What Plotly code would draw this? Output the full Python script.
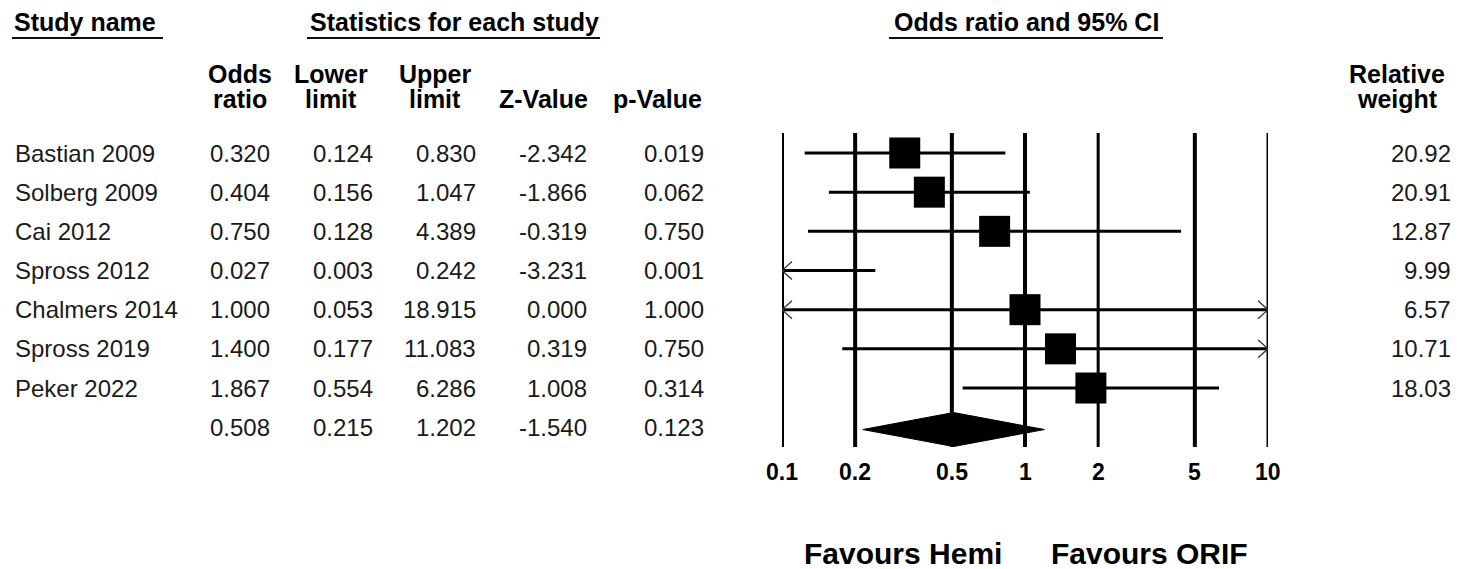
import math
import plotly.graph_objects as go

# ---------------- data ----------------
studies = ["Bastian 2009", "Solberg 2009", "Cai 2012", "Spross 2012",
           "Chalmers 2014", "Spross 2019", "Peker 2022"]
odds_ratio = [0.320, 0.404, 0.750, 0.027, 1.000, 1.400, 1.867]
lower_limit = [0.124, 0.156, 0.128, 0.003, 0.053, 0.177, 0.554]
upper_limit = [0.830, 1.047, 4.389, 0.242, 18.915, 11.083, 6.286]
z_value = [-2.342, -1.866, -0.319, -3.231, 0.000, 0.319, 1.008]
p_value = [0.019, 0.062, 0.750, 0.001, 1.000, 0.750, 0.314]
rel_weight = [20.92, 20.91, 12.87, 9.99, 6.57, 10.71, 18.03]

summary_or = 0.508
summary_lower = 0.215
summary_upper = 1.202
summary_z = -1.540
summary_p = 0.123

tick_vals = [0.1, 0.2, 0.5, 1, 2, 5, 10]
tick_text = ["0.1", "0.2", "0.5", "1", "2", "5", "10"]
left_label = "Favours Hemi"
right_label = "Favours ORIF"

# ---------------- geometry ----------------
W, H = 1462, 569
ROW0, ROWSTEP = 153.0, 39.17
X_MIN, X_MAX = 0.1, 10.0
PLOT_L, PLOT_R = 782.0, 1268.0
PX_PER_DEC = (PLOT_R - PLOT_L) / (math.log10(X_MAX) - math.log10(X_MIN))

FONT = "Liberation Sans, Arial, sans-serif"
TXT = "#1a1a1a"


def row_of_px(py):
    return (py - ROW0) / ROWSTEP


def ppx(px):
    return px / W


def ppy(py):
    return 1 - py / H


fig = go.Figure()

y_top = row_of_px(133)
y_bot = row_of_px(447)

# vertical reference lines
for v in tick_vals:
    w = 3 if v in (2, 10) else 4
    fig.add_trace(go.Scatter(x=[v, v], y=[y_top, y_bot], mode="lines",
                             line=dict(color="black", width=w),
                             hoverinfo="skip", showlegend=False))

# CI lines, arrows
dec_off = 10 / PX_PER_DEC
arm = 9 / ROWSTEP
for i in range(len(studies)):
    lo = max(lower_limit[i], X_MIN)
    hi = min(upper_limit[i], X_MAX)
    fig.add_trace(go.Scatter(x=[lo, hi], y=[i, i], mode="lines",
                             line=dict(color="black", width=3),
                             hoverinfo="skip", showlegend=False))
    if lower_limit[i] < X_MIN:
        xa = 10 ** (math.log10(X_MIN) + dec_off)
        fig.add_trace(go.Scatter(x=[xa, X_MIN, xa], y=[i - arm, i, i + arm],
                                 mode="lines", line=dict(color="#333", width=1.3),
                                 hoverinfo="skip", showlegend=False))
    if upper_limit[i] > X_MAX:
        xa = 10 ** (math.log10(X_MAX) - dec_off)
        fig.add_trace(go.Scatter(x=[xa, X_MAX, xa], y=[i - arm, i, i + arm],
                                 mode="lines", line=dict(color="#333", width=1.3),
                                 hoverinfo="skip", showlegend=False))

# squares (only those within range)
sq_x = [o for o in odds_ratio if X_MIN <= o <= X_MAX]
sq_y = [i for i, o in enumerate(odds_ratio) if X_MIN <= o <= X_MAX]
fig.add_trace(go.Scatter(x=sq_x, y=sq_y, mode="markers",
                         marker=dict(symbol="square", size=31, color="black",
                                     line=dict(width=0)),
                         hoverinfo="skip", showlegend=False))

# summary diamond
srow = len(studies) + 0.06
hh = 17 / ROWSTEP
fig.add_trace(go.Scatter(x=[summary_lower, summary_or, summary_upper, summary_or, summary_lower],
                         y=[srow, srow - hh, srow, srow + hh, srow],
                         mode="lines", fill="toself", fillcolor="black",
                         line=dict(color="black", width=1),
                         hoverinfo="skip", showlegend=False))

annotations = []


def txt(x, y, s, anchor="left", bold=False, size=24, yref="y", xref="paper"):
    annotations.append(dict(
        x=x, y=y, xref=xref, yref=yref, text=("<b>%s</b>" % s) if bold else s,
        showarrow=False, xanchor=anchor, yanchor="middle",
        font=dict(family=FONT, size=size, color="black" if bold else TXT)))


HB = 25  # bold header size

# titles
txt(ppx(12), ppy(22), "Study name", "left", True, size=HB, yref="paper")
txt(ppx(454), ppy(22), "Statistics for each study", "center", True, size=HB, yref="paper")
txt(ppx(1026), ppy(22), "Odds ratio and 95% CI", "center", True, size=HB, yref="paper")

shapes = []
for x0, x1 in [(12, 163), (307, 600), (889, 1163)]:
    shapes.append(dict(type="line", xref="paper", yref="paper",
                       x0=ppx(x0), x1=ppx(x1), y0=ppy(38), y1=ppy(38),
                       line=dict(color="#111", width=2)))

# column headers
headers = [(240, "Odds", "ratio"), (331, "Lower", "limit"), (435, "Upper", "limit"),
           (543, "", "Z-Value"), (657, "", "p-Value"), (1397, "Relative", "weight")]
for cx, h1, h2 in headers:
    if h1:
        txt(ppx(cx), ppy(74), h1, "center", True, size=HB, yref="paper")
    txt(ppx(cx), ppy(99), h2, "center", True, size=HB, yref="paper")

# rows
for i, name in enumerate(studies):
    txt(ppx(13), i, name, "left")
    txt(ppx(272), i, "%.3f" % odds_ratio[i], "right")
    txt(ppx(375), i, "%.3f" % lower_limit[i], "right")
    txt(ppx(478), i, "%.3f" % upper_limit[i], "right")
    txt(ppx(589), i, "%.3f" % z_value[i], "right")
    txt(ppx(706), i, "%.3f" % p_value[i], "right")
    txt(ppx(1453), i, "%.2f" % rel_weight[i], "right")

srow_t = len(studies)
txt(ppx(272), srow_t, "%.3f" % summary_or, "right")
txt(ppx(375), srow_t, "%.3f" % summary_lower, "right")
txt(ppx(478), srow_t, "%.3f" % summary_upper, "right")
txt(ppx(589), srow_t, "%.3f" % summary_z, "right")
txt(ppx(706), srow_t, "%.3f" % summary_p, "right")

# tick labels on log axis
for v, t in zip(tick_vals, tick_text):
    txt(math.log10(v), ppy(472), t, "center", True, size=23, yref="paper", xref="x")

# favours labels
txt(ppx(1004), ppy(553), left_label, "right", True, size=30, yref="paper")
txt(ppx(1049), ppy(553), right_label, "left", True, size=30, yref="paper")

fig.update_layout(
    width=W, height=H, margin=dict(l=0, r=0, t=0, b=0),
    paper_bgcolor="white", plot_bgcolor="white",
    xaxis=dict(type="log", range=[math.log10(X_MIN), math.log10(X_MAX)],
               domain=[ppx(PLOT_L), ppx(PLOT_R)], visible=False, fixedrange=True),
    yaxis=dict(range=[row_of_px(H), row_of_px(0)], domain=[0, 1],
               visible=False, fixedrange=True),
    annotations=annotations, shapes=shapes, showlegend=False,
)

fig.write_html("out.html", config={"displayModeBar": False})
